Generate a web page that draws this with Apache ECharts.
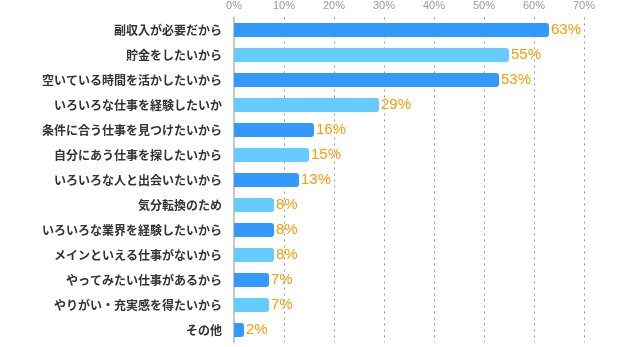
<!DOCTYPE html>
<html>
<head>
<meta charset="utf-8">
<script src="https://cdn.jsdelivr.net/npm/echarts@6/dist/echarts.min.js"></script>
<style>html,body{margin:0;padding:0;background:#fff;}#c{width:640px;height:347px;}</style>
</head>
<body>
<div id="c"></div>
<script>
const categories = [
  '副収入が必要だから',
  '貯金をしたいから',
  '空いている時間を活かしたいから',
  'いろいろな仕事を経験したいか',
  '条件に合う仕事を見つけたいから',
  '自分にあう仕事を探したいから',
  'いろいろな人と出会いたいから',
  '気分転換のため',
  'いろいろな業界を経験したいから',
  'メインといえる仕事がないから',
  'やってみたい仕事があるから',
  'やりがい・充実感を得たいから',
  'その他'
];
const values = [63, 55, 53, 29, 16, 15, 13, 8, 8, 8, 7, 7, 2];
const xTicks = [0, 10, 20, 30, 40, 50, 60, 70];

const DARK = '#3399FF', LIGHT = '#66CCFF';
const chart = echarts.init(document.getElementById('c'), null, {renderer: 'canvas'});
chart.setOption({
  animation: false,
  grid: {left: 234, right: 56, top: 17.5, height: 325, containLabel: false},
  xAxis: {
    type: 'value', position: 'top',
    min: xTicks[0], max: xTicks[xTicks.length - 1], interval: xTicks[1] - xTicks[0],
    axisLine: {show: false}, axisTick: {show: false},
    axisLabel: {formatter: '{value}%', color: '#999', fontSize: 11, margin: 6,
      fontFamily: 'Liberation Sans, Arial, sans-serif'},
    splitLine: {show: true, lineStyle: {color: '#999', width: 1, type: [2, 4]}}
  },
  yAxis: {
    type: 'category', data: categories, inverse: true,
    axisTick: {show: false},
    axisLine: {show: true, lineStyle: {color: '#c8c8c8', width: 2}},
    axisLabel: {color: '#333', fontSize: 12, margin: 12, fontWeight: 'bold',
      fontFamily: '"Noto Sans CJK JP", sans-serif'}
  },
  series: [{
    type: 'bar', data: values, barWidth: 14,
    itemStyle: {
      borderRadius: [0, 3, 3, 0],
      color: p => (p.dataIndex % 2 === 0 ? DARK : LIGHT)
    },
    label: {
      show: true, position: 'right', distance: 2,
      formatter: '{c}%', color: '#FF9900', fontSize: 15,
      fontFamily: 'Liberation Sans, Arial, sans-serif'
    }
  }]
});
</script>
</body>
</html>
